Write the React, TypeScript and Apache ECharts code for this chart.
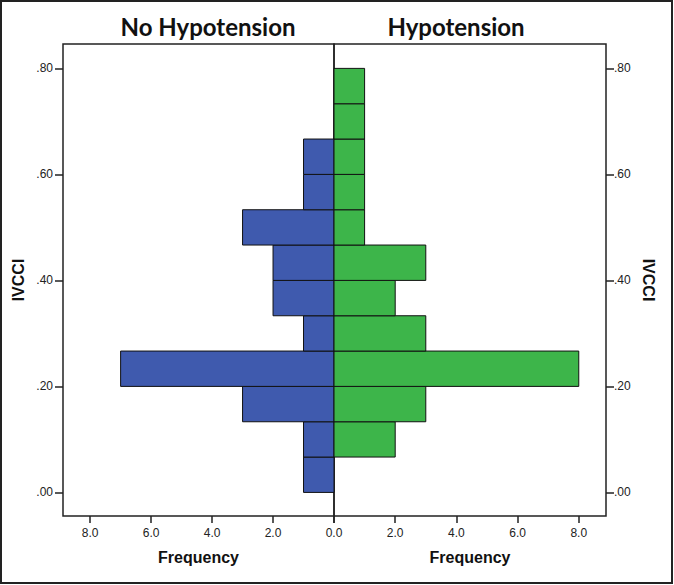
import React, { useEffect, useRef } from "react";
import * as echarts from "echarts";

// IVCCI bins (lower / upper edges)
const binLow = [0.0, 0.0667, 0.1333, 0.2, 0.2667, 0.3333, 0.4, 0.4667, 0.5333, 0.6, 0.6667, 0.7333];
const binHigh = [0.0667, 0.1333, 0.2, 0.2667, 0.3333, 0.4, 0.4667, 0.5333, 0.6, 0.6667, 0.7333, 0.8];
// Frequencies
const noHypotension = [1, 1, 3, 7, 1, 2, 2, 3, 1, 1, 0, 0];
const hypotension = [0, 2, 3, 8, 3, 2, 3, 1, 1, 1, 1, 1];
// Ticks
const yTicks = [0, 0.2, 0.4, 0.6, 0.8];
const xTicks = [0, 2, 4, 6, 8];
const leftTitle = "No Hypotension";
const rightTitle = "Hypotension";

const BLUE = "#3F5AAE";
const GREEN = "#3DB54A";
const LABEL_FONT = "'Liberation Sans', Arial, sans-serif";

export default function App() {
  const ref = useRef<HTMLDivElement>(null);
  useEffect(() => {
    document.body.style.margin = "0";
    const chart = echarts.init(ref.current!, null, { renderer: "svg" });
    const makeRender = (color: string) => (params: any, api: any) => {
      const lo = api.value(0);
      const hi = api.value(1);
      const n = api.value(2);
      if (!n) return null;
      const p0 = api.coord([0, lo]);
      const p1 = api.coord([n, hi]);
      return {
        type: "rect",
        shape: {
          x: Math.min(p0[0], p1[0]),
          y: Math.min(p0[1], p1[1]),
          width: Math.abs(p1[0] - p0[0]),
          height: Math.abs(p1[1] - p0[1]),
        },
        style: { fill: color, stroke: "#111", lineWidth: 1 },
      };
    };
    const yFmt = (v: number) => v.toFixed(2).replace(/^0/, "");
    const yAxisBase = {
      type: "value",
      min: -0.0445,
      max: 0.846,
      splitLine: { show: false },
      axisLine: { show: false, onZero: false },
      nameLocation: "middle",
      nameTextStyle: { fontFamily: LABEL_FONT, fontWeight: "bold", fontSize: 16, color: "#111" },
    };
    const xAxisBase = {
      type: "value",
      min: 0,
      max: 8.89,
      position: "bottom",
      splitLine: { show: false },
      axisLine: { show: false, onZero: false },
      name: "Frequency",
      nameLocation: "middle",
      nameGap: 33,
      nameTextStyle: { fontFamily: LABEL_FONT, fontWeight: "bold", fontSize: 16, color: "#111" },
    };
    const labelStyle = { fontFamily: LABEL_FONT, fontSize: 12, color: "#222" };
    const tickStyle = { lineStyle: { color: "#222", width: 1.5 } };
    const option: any = {
      animation: false,
      backgroundColor: "#fff",
      grid: [
        { left: 63, top: 44, width: 271, height: 472, show: true, borderColor: "#222", borderWidth: 1.5, backgroundColor: "transparent" },
        { left: 334, top: 44, width: 272, height: 472, show: true, borderColor: "#222", borderWidth: 1.5, backgroundColor: "transparent" },
      ],
      xAxis: [
        {
          ...xAxisBase,
          gridIndex: 0,
          inverse: true,
          axisTick: { show: true, length: 7, customValues: xTicks, ...tickStyle },
          axisLabel: { ...labelStyle, margin: 11, customValues: xTicks.filter((v) => v !== 0), formatter: (v: number) => v.toFixed(1) },
        },
        {
          ...xAxisBase,
          gridIndex: 1,
          axisTick: { show: true, length: 7, customValues: xTicks, ...tickStyle },
          axisLabel: { ...labelStyle, margin: 11, customValues: xTicks, formatter: (v: number) => v.toFixed(1) },
        },
      ],
      yAxis: [
        {
          ...yAxisBase,
          gridIndex: 0,
          position: "left",
          name: "IVCCI",
          nameGap: 37,
          nameRotate: 90,
          axisTick: { show: true, length: 8, customValues: yTicks, ...tickStyle },
          axisLabel: { ...labelStyle, margin: 10, customValues: yTicks, formatter: yFmt },
        },
        {
          ...yAxisBase,
          gridIndex: 1,
          position: "right",
          name: "IVCCI",
          nameGap: 34,
          nameRotate: -90,
          axisTick: { show: true, length: 8, customValues: yTicks, ...tickStyle },
          axisLabel: { ...labelStyle, margin: 8, customValues: yTicks, formatter: yFmt },
        },
      ],
      series: [
        {
          type: "custom",
          name: leftTitle,
          xAxisIndex: 0,
          yAxisIndex: 0,
          renderItem: makeRender(BLUE),
          encode: { x: 2, y: [0, 1] },
          data: binLow.map((lo, i) => [lo, binHigh[i], noHypotension[i]]),
        },
        {
          type: "custom",
          name: rightTitle,
          xAxisIndex: 1,
          yAxisIndex: 1,
          renderItem: makeRender(GREEN),
          encode: { x: 2, y: [0, 1] },
          data: binLow.map((lo, i) => [lo, binHigh[i], hypotension[i]]),
        },
      ],
      graphic: [
        {
          type: "rect",
          shape: { x: 1, y: 1, width: 671, height: 582 },
          style: { fill: "none", stroke: "#222", lineWidth: 2 },
          silent: true,
        },
        {
          type: "text",
          x: 208,
          y: 26,
          style: { text: leftTitle, fontFamily: "Lato, sans-serif", fontWeight: "bold", fontSize: 24, fill: "#111", textAlign: "center", textVerticalAlign: "middle" },
        },
        {
          type: "text",
          x: 456,
          y: 26,
          style: { text: rightTitle, fontFamily: "Lato, sans-serif", fontWeight: "bold", fontSize: 24, fill: "#111", textAlign: "center", textVerticalAlign: "middle" },
        },
      ],
    };
    chart.setOption(option);
    return () => chart.dispose();
  }, []);
  return <div ref={ref} style={{ width: 674, height: 585 }} />;
}
